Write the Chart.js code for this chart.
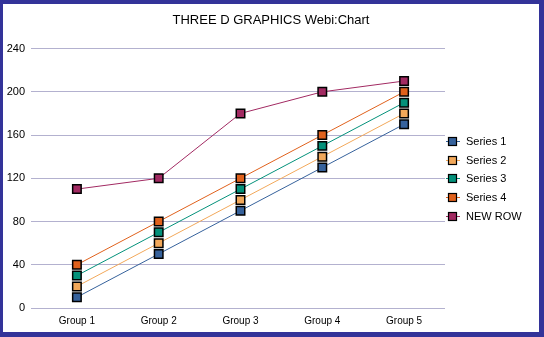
<!DOCTYPE html>
<html>
<head>
<meta charset="utf-8">
<script src="https://cdn.jsdelivr.net/npm/chart.js@4/dist/chart.umd.min.js"></script>
<style>
  html, body { margin: 0; padding: 0; background: #fff; }
  #frame {
    position: absolute; left: 0; top: 0;
    width: 536px; height: 328px;
    border-style: solid; border-color: #333399;
    border-width: 4px 5px 5px 3px;
    background: #fff;
  }
  #chart { display: block; }
</style>
</head>
<body>
<div id="frame"><canvas id="chart" width="536" height="328"></canvas></div>
<script>
// values
const groups = ['Group 1', 'Group 2', 'Group 3', 'Group 4', 'Group 5']
const series1 = [10, 50, 90, 130, 170]
const series2 = [20, 60, 100, 140, 180]
const series3 = [30, 70, 110, 150, 190]
const series4 = [40, 80, 120, 160, 200]
const newRow = [110, 120, 180, 200, 210]
const seriesNames = ['Series 1', 'Series 2', 'Series 3', 'Series 4', 'NEW ROW']
const seriesColors = ['#36629c', '#f2a85a', '#03917a', '#e0611c', '#a22a62']
const yMin = 0
const yMax = 240
const yStep = 40

const FONT = 'Liberation Sans, Arial, sans-serif'

function makeDataset (label, data, color) {
  return {
    label: label,
    data: data,
    borderColor: color,
    borderWidth: 1,
    tension: 0,
    pointStyle: 'rect',
    pointRadius: 6,
    pointHoverRadius: 6,
    pointBackgroundColor: color,
    pointBorderColor: '#000',
    pointBorderWidth: 1.5
  }
}

// legend at the right: short line with a square on it, then the name
const sideLegend = {
  id: 'sideLegend',
  afterDraw (chart) {
    const ctx = chart.ctx
    const area = chart.chartArea
    const mid = (area.top + area.bottom) / 2
    const pitch = 18.6
    const n = chart.data.datasets.length
    ctx.save()
    chart.data.datasets.forEach((ds, i) => {
      const y = Math.round(mid + (i - (n - 1) / 2) * pitch) + 0.5
      const cx = area.right + 7.5
      ctx.strokeStyle = ds.borderColor
      ctx.lineWidth = 1
      ctx.beginPath()
      ctx.moveTo(area.right + 1, y)
      ctx.lineTo(area.right + 15, y)
      ctx.stroke()
      ctx.fillStyle = ds.borderColor
      ctx.fillRect(cx - 4, y - 4, 8, 8)
      ctx.strokeStyle = '#000'
      ctx.lineWidth = 1.2
      ctx.strokeRect(cx - 4, y - 4, 8, 8)
      ctx.fillStyle = '#000'
      ctx.font = '11px ' + FONT
      ctx.textBaseline = 'middle'
      ctx.textAlign = 'left'
      ctx.fillText(ds.label, area.right + 21, y)
    })
    ctx.restore()
  }
}

const allSeries = [series1, series2, series3, series4, newRow]

new Chart(document.getElementById('chart'), {
  type: 'line',
  data: {
    labels: groups,
    datasets: allSeries.map((s, i) => makeDataset(seriesNames[i], s, seriesColors[i]))
  },
  options: {
    responsive: false,
    animation: false,
    layout: { padding: 0 },
    plugins: {
      legend: { display: false },
      tooltip: { enabled: false },
      title: {
        display: true,
        text: 'THREE D GRAPHICS Webi:Chart',
        color: '#000',
        font: { family: FONT, size: 13, weight: 'normal' },
        padding: { top: 9, bottom: 20 }
      }
    },
    scales: {
      x: {
        offset: true,
        grid: { display: false, drawTicks: false },
        border: { display: false },
        ticks: { color: '#000', font: { family: FONT, size: 10 }, padding: 7, maxRotation: 0 },
        afterFit (scale) { scale.height = 24 }
      },
      y: {
        min: yMin,
        max: yMax,
        grid: { color: '#b3b1cf', lineWidth: 1, tickLength: 5, drawTicks: true },
        border: { display: false },
        ticks: { stepSize: yStep, color: '#000', font: { family: FONT, size: 11 }, padding: 6 },
        afterFit (scale) { scale.width = 33 }
      },
      // empty axis on the right that only keeps room for the legend
      legendRoom: {
        type: 'linear',
        position: 'right',
        grid: { display: false },
        border: { display: false },
        ticks: { display: false },
        afterFit (scale) { scale.width = 94 }
      }
    }
  },
  plugins: [sideLegend]
})
</script>
</body>
</html>
